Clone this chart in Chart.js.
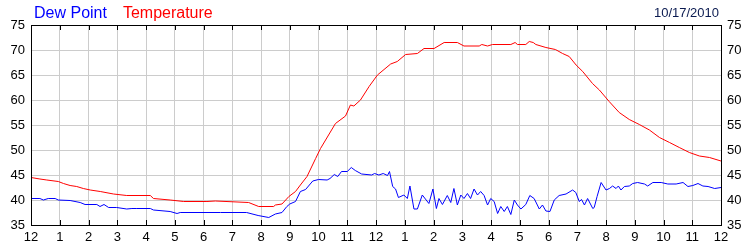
<!DOCTYPE html>
<html>
<head>
<meta charset="utf-8">
<script src="https://cdn.jsdelivr.net/npm/chart.js@4.4.0/dist/chart.umd.min.js"></script>
<style>
  html, body { margin: 0; padding: 0; background: #fff; }
  canvas { display: block; }
</style>
</head>
<body>
<canvas id="weatherChart" width="750" height="250"></canvas>
<script>
// readings for 10/17/2010, hour of day (0 = midnight) and degrees F
const chartDate = '10/17/2010';

const tempHours = [0, 0.31, 0.55, 0.95, 1.13, 1.36, 1.59, 1.82, 2.06, 2.41, 2.87, 3.33, 4.15, 4.26, 4.84, 5.31, 6.12, 6.41, 7.57, 7.92, 8.44, 8.5, 8.73,
    8.97, 9.2, 9.37, 9.6, 9.9, 10.07, 10.59, 10.94, 11.11, 11.23, 11.46, 11.76, 12.05, 12.51, 12.74, 13.03, 13.44, 13.67, 14.02, 14.37, 14.83,
    15.06, 15.59, 15.68, 15.88, 16.05, 16.69, 16.84, 16.92, 17.21, 17.33, 17.47, 17.56, 17.91, 18.24, 18.49, 18.72, 18.96, 19.19, 19.53, 19.77,
    20.11, 20.46, 20.81, 21.16, 21.51, 21.86, 22.21, 22.55, 22.9, 23.25, 23.6, 24];
const tempValues = [44.5, 44.2, 44.0, 43.7, 43.3, 42.9, 42.7, 42.3, 42.0, 41.7, 41.2, 40.9, 40.9, 40.3, 40.0, 39.7, 39.7, 39.8, 39.5, 38.7, 38.7, 39.0, 39.2,
    40.7, 41.7, 43.0, 44.7, 48.3, 50.3, 55.3, 56.8, 59.0, 58.8, 60.0, 62.7, 65.0, 67.2, 67.7, 69.1, 69.3, 70.3, 70.3, 71.5, 71.5,
    70.8, 70.8, 71.1, 70.8, 71.1, 71.1, 71.5, 71.1, 71.1, 71.7, 71.5, 71.1, 70.5, 70.1, 69.3, 68.7, 67.0, 65.7, 63.3, 62.0,
    59.7, 57.5, 56.1, 55.1, 54.0, 52.5, 51.5, 50.5, 49.5, 48.8, 48.5, 47.8];

const dewHours = [0, 0.31, 0.43, 0.6, 0.84, 0.95, 1.36, 1.71, 1.88, 2.29, 2.4, 2.54, 2.7, 2.98, 3.33, 3.51, 3.68, 4.15, 4.26, 4.84, 5.08, 5.19, 6.59,
    7.5, 7.9, 8.27, 8.5, 8.73, 8.9, 9.0, 9.2, 9.37, 9.55, 9.8, 10.0, 10.3, 10.4, 10.55, 10.67, 10.8, 11.0, 11.14, 11.28, 11.5, 11.85, 11.95,
    12.1, 12.25, 12.4, 12.47, 12.58, 12.68, 12.78, 12.97, 13.09, 13.18, 13.32, 13.44, 13.61, 13.84, 13.98, 14.1, 14.19, 14.31, 14.48,
    14.6, 14.71, 14.83, 14.95, 15.06, 15.18, 15.29, 15.41, 15.53, 15.64, 15.76, 15.88, 15.99, 16.11, 16.23, 16.34, 16.46, 16.57, 16.69,
    16.81, 16.92, 17.04, 17.21, 17.35, 17.5, 17.68, 17.79, 17.91, 18.05, 18.2, 18.37, 18.61, 18.84, 18.95, 19.07, 19.15, 19.25, 19.36,
    19.54, 19.59, 19.69, 19.83, 20.0, 20.12, 20.23, 20.35, 20.43, 20.52, 20.64, 20.81, 20.93, 21.1, 21.34, 21.45, 21.63, 21.92, 22.15,
    22.44, 22.68, 22.85, 23.02, 23.2, 23.37, 23.55, 23.78, 24];
const dewValues = [40.3, 40.3, 40.0, 40.3, 40.3, 40.0, 39.9, 39.5, 39.1, 39.1, 38.7, 39.1, 38.5, 38.5, 38.2, 38.3, 38.3, 38.3, 38.0, 37.7, 37.3, 37.5, 37.5,
    37.5, 36.9, 36.5, 37.2, 37.5, 38.7, 39.2, 39.7, 41.7, 42.1, 43.8, 44.1, 44.0, 44.3, 45.1, 44.7, 45.7, 45.7, 46.5, 45.9, 45.2, 45.0, 45.3,
    45.0, 45.3, 44.9, 45.7, 42.7, 42.2, 40.5, 41.0, 40.3, 42.8, 38.2, 38.2, 41.0, 39.3, 42.2, 38.3, 40.3, 39.1, 40.9,
    39.5, 42.3, 39.0, 41.0, 40.3, 41.3, 40.3, 42.2, 41.0, 41.7, 40.9, 39.0, 40.3, 39.7, 37.3, 38.7, 37.7, 38.7, 37.1,
    40.0, 39.0, 38.2, 39.1, 40.9, 40.3, 38.2, 39.0, 37.8, 37.7, 40.0, 40.9, 41.2, 42.0, 41.5, 39.7, 40.1, 39.0, 40.3,
    38.3, 38.5, 40.7, 43.5, 42.0, 42.3, 42.8, 42.3, 42.8, 42.0, 42.7, 42.8, 43.3, 43.5, 43.2, 42.8, 43.5, 43.5, 43.2,
    43.2, 43.5, 42.7, 42.9, 43.3, 42.8, 42.7, 42.3, 42.5];

const yTicks = [35, 40, 45, 50, 55, 60, 65, 70, 75];
const hourLabels = ['12', '1', '2', '3', '4', '5', '6', '7', '8', '9', '10', '11',
    '12', '1', '2', '3', '4', '5', '6', '7', '8', '9', '10', '11', '12'];

const toPoints = (xs, ys) => xs.map((x, i) => ({ x: x, y: ys[i] }));

// box round the plot, inner tick marks, legend text and date
const decorPlugin = {
    id: 'decor',
    afterDraw(chart) {
        const ctx = chart.ctx;
        const area = chart.chartArea;
        const xs = chart.scales.x;
        ctx.save();
        ctx.strokeStyle = '#000';
        ctx.lineWidth = 1;
        ctx.beginPath();
        for (let h = 0; h <= 24; h++) {
            const px = Math.round(xs.getPixelForValue(h)) + 0.5;
            ctx.moveTo(px, area.bottom);
            ctx.lineTo(px, area.bottom - 5);
            ctx.moveTo(px, area.top);
            ctx.lineTo(px, area.top + 5);
        }
        ctx.stroke();
        ctx.strokeRect(Math.round(area.left) + 0.5, Math.round(area.top) + 0.5,
            Math.round(area.right - area.left), Math.round(area.bottom - area.top));

        ctx.font = '16px "Liberation Sans", Arial, sans-serif';
        ctx.textBaseline = 'alphabetic';
        ctx.textAlign = 'left';
        let x = 34;
        chart.data.datasets.forEach(ds => {
            ctx.fillStyle = ds.borderColor;
            ctx.fillText(ds.label, x, 18);
            x += ctx.measureText(ds.label).width + 16;
        });
        ctx.font = '13px "Liberation Sans", Arial, sans-serif';
        ctx.fillStyle = '#0a1a50';
        ctx.textAlign = 'right';
        ctx.fillText(chartDate, 719, 17);
        ctx.restore();
    }
};

const tickFont = { family: '"Liberation Sans", Arial, sans-serif', size: 13 };

new Chart(document.getElementById('weatherChart').getContext('2d'), {
    type: 'line',
    data: {
        datasets: [{
            label: 'Dew Point',
            data: toPoints(dewHours, dewValues),
            borderColor: '#0000ff',
            borderWidth: 1,
            pointRadius: 0,
            tension: 0,
            fill: false
        }, {
            label: 'Temperature',
            data: toPoints(tempHours, tempValues),
            borderColor: '#ff0000',
            borderWidth: 1,
            pointRadius: 0,
            tension: 0,
            fill: false
        }]
    },
    options: {
        responsive: false,
        animation: false,
        layout: { padding: { top: 25, left: 0, right: 0, bottom: 0 } },
        plugins: {
            legend: { display: false },
            tooltip: { enabled: false }
        },
        scales: {
            x: {
                type: 'linear',
                min: 0,
                max: 24,
                afterFit: s => { s.height = 25; },
                afterBuildTicks: s => { s.ticks = hourLabels.map((_, i) => ({ value: i })); },
                ticks: {
                    autoSkip: false,
                    maxRotation: 0,
                    padding: 5,
                    color: '#000',
                    font: tickFont,
                    callback: v => hourLabels[v]
                },
                grid: { color: '#cccccc', drawTicks: false },
                border: { color: '#000' }
            },
            y: {
                position: 'left',
                min: 35,
                max: 75,
                afterFit: s => { s.width = 31; },
                afterBuildTicks: s => { s.ticks = yTicks.map(v => ({ value: v })); },
                ticks: { padding: 6, color: '#000', font: tickFont },
                grid: { color: '#cccccc', drawTicks: false },
                border: { color: '#000' }
            },
            y2: {
                position: 'right',
                min: 35,
                max: 75,
                afterFit: s => { s.width = 29; },
                afterBuildTicks: s => { s.ticks = yTicks.map(v => ({ value: v })); },
                ticks: { padding: 6, color: '#000', font: tickFont },
                grid: { display: false, drawTicks: false },
                border: { color: '#000' }
            }
        }
    },
    plugins: [decorPlugin]
});
</script>
</body>
</html>
